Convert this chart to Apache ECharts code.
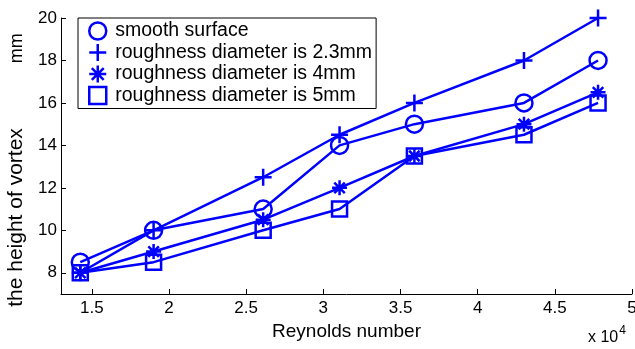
<!DOCTYPE html>
<html>
<head>
<meta charset="utf-8">
<script src="https://cdn.jsdelivr.net/npm/echarts@6/dist/echarts.min.js"></script>
<style>
html,body{margin:0;padding:0;background:#fff;}
#main{width:635px;height:349px;}
</style>
</head>
<body>
<div id="main"></div>
<script>
var myChart = echarts.init(document.getElementById('main'));

// Reynolds number of each run
var reynolds = [14250, 19000, 26100, 31050, 35900, 43000, 47800];
// height of vortex (mm)
var smooth = [8.5, 10, 11, 14, 15, 16, 18];
var rough23 = [8, 10, 12.5, 14.5, 16, 18, 20];
var rough4 = [8, 9, 10.5, 12, 13.5, 15, 16.5];
var rough5 = [8, 8.5, 10, 11, 13.5, 14.5, 16];

var names = ['smooth surface', 'roughness diameter is 2.3mm', 'roughness diameter is 4mm', 'roughness diameter is 5mm'];
var xTicks = [15000, 20000, 25000, 30000, 35000, 40000, 45000, 50000];
var yTicks = [8, 10, 12, 14, 16, 18, 20];

var plusPath = 'path://M-10,0 L10,0 M0,-10 L0,10';
var starPath = 'path://M-10,0 L10,0 M0,-10 L0,10 M-7,-7 L7,7 M-7,7 L7,-7';
var symbols = ['circle', plusPath, starPath, 'rect'];
var sizes = [17, 17, 15, 15];
var values = [smooth, rough23, rough4, rough5];

var font = 'Liberation Sans';

function pairs(ys) {
    return reynolds.map(function (x, i) { return [x, ys[i]]; });
}

var series = names.map(function (name, k) {
    return {
        name: name,
        type: 'line',
        data: pairs(values[k]),
        symbol: symbols[k],
        symbolSize: sizes[k],
        showAllSymbol: true,
        lineStyle: {color: '#0000ff', width: 2.5},
        itemStyle: {color: 'rgba(0,0,0,0)', borderColor: '#0000ff', borderWidth: 2.5},
        emphasis: {disabled: true}
    };
});

var option = {
    animation: false,
    grid: {left: 61, right: 3, top: 18, bottom: 55, containLabel: false, outerBoundsMode: 'none'},
    legend: {
        orient: 'vertical',
        left: 78,
        top: 18,
        padding: [3, 4, 3, 10],
        itemGap: 1.5,
        itemWidth: 17,
        itemHeight: 17,
        borderColor: '#000',
        borderWidth: 1,
        backgroundColor: '#fff',
        data: names.map(function (n, k) { return {name: n, icon: symbols[k]}; }),
        itemStyle: {borderWidth: 2.5, borderColor: '#0000ff', color: 'rgba(0,0,0,0)'},
        textStyle: {fontFamily: font, fontSize: 19.5, color: '#000', lineHeight: 17, padding: [0, 0, 0, 4]}
    },
    xAxis: {
        type: 'value',
        min: 13000,
        max: 50000,
        name: 'Reynolds number',
        nameLocation: 'middle',
        nameGap: 19,
        nameTextStyle: {fontFamily: font, fontSize: 19, color: '#000'},
        axisLine: {lineStyle: {color: '#000', width: 1}},
        axisTick: {inside: true, length: 5, customValues: xTicks, lineStyle: {color: '#000'}},
        axisLabel: {
            customValues: xTicks,
            fontFamily: font, fontSize: 17, color: '#000', margin: 6,
            formatter: function (v) { return String(v / 1e4); }
        },
        splitLine: {show: false}
    },
    yAxis: {
        type: 'value',
        min: 7,
        max: 20,
        name: '{a|the height of vortex}{b|mm}',
        nameLocation: 'middle',
        nameGap: 27,
        nameTextStyle: {
            color: '#000',
            padding: [0, 28, 0, 0],
            rich: {
                a: {fontFamily: font, fontSize: 21, color: '#000'},
                b: {fontFamily: font, fontSize: 18, color: '#000', padding: [0, 0, 0, 65]}
            }
        },
        axisLine: {show: true, lineStyle: {color: '#000', width: 1}},
        axisTick: {show: true, inside: true, length: 5, customValues: yTicks, lineStyle: {color: '#000'}},
        axisLabel: {customValues: yTicks, fontFamily: font, fontSize: 17, color: '#000', margin: 4},
        splitLine: {show: false}
    },
    graphic: [{
        type: 'text',
        left: 588,
        top: 325,
        style: {
            text: '{a|x 10}{b|4}',
            rich: {
                a: {fontFamily: font, fontSize: 16, fill: '#000', padding: [10, 0, 0, 0]},
                b: {fontFamily: font, fontSize: 12, fill: '#000', padding: [0, 0, 4, 1]}
            }
        }
    }],
    series: series
};

myChart.setOption(option);
</script>
</body>
</html>
